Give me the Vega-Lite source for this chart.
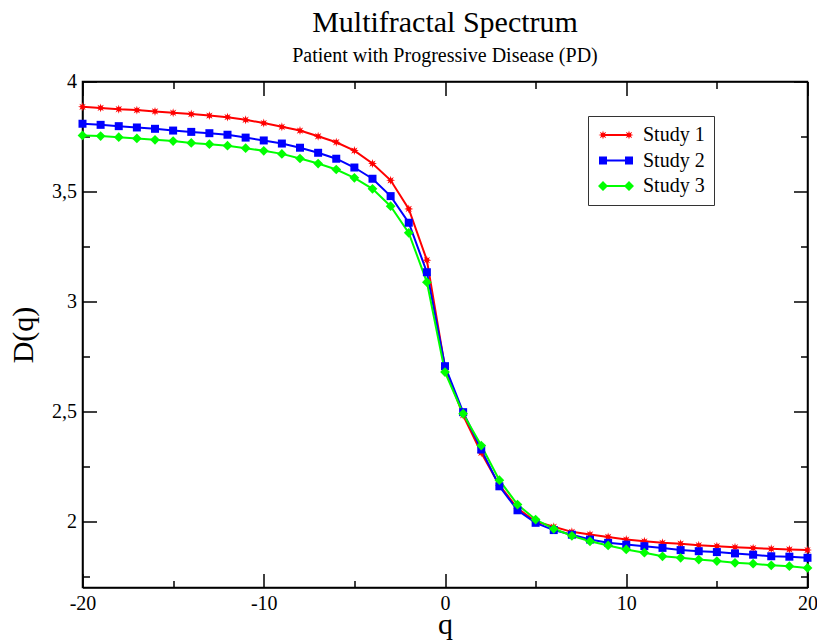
{
  "$schema": "https://vega.github.io/schema/vega-lite/v6.json",
  "width": 725,
  "height": 506,
  "autosize": {"type": "none"},
  "padding": {"left": 82.5, "top": 81.5, "right": 9.5, "bottom": 55.5},
  "background": "white",
  "title": {
    "text": "Multifractal Spectrum",
    "subtitle": "Patient with  Progressive Disease (PD)",
    "anchor": "middle",
    "font": "Liberation Serif",
    "fontSize": 30,
    "fontWeight": "normal",
    "color": "black",
    "subtitleFont": "Liberation Serif",
    "subtitleFontSize": 20,
    "subtitleColor": "black",
    "subtitlePadding": 8,
    "offset": 6
  },
  "config": {
    "view": {"stroke": "black", "strokeWidth": 1.5},
    "axis": {
      "labelFont": "Liberation Serif",
      "labelFontSize": 20,
      "labelColor": "black",
      "titleFont": "Liberation Serif",
      "titleFontSize": 30,
      "titleFontWeight": "normal",
      "titleColor": "black",
      "tickColor": "black",
      "tickWidth": 1.5,
      "domainColor": "black",
      "domainWidth": 1.5,
      "grid": false
    }
  },
  "data": {
    "values": [
      {"q": -20, "D": 3.885, "study": "Study 1"},
      {"q": -19, "D": 3.880, "study": "Study 1"},
      {"q": -18, "D": 3.874, "study": "Study 1"},
      {"q": -17, "D": 3.870, "study": "Study 1"},
      {"q": -16, "D": 3.864, "study": "Study 1"},
      {"q": -15, "D": 3.858, "study": "Study 1"},
      {"q": -14, "D": 3.852, "study": "Study 1"},
      {"q": -13, "D": 3.845, "study": "Study 1"},
      {"q": -12, "D": 3.838, "study": "Study 1"},
      {"q": -11, "D": 3.826, "study": "Study 1"},
      {"q": -10, "D": 3.811, "study": "Study 1"},
      {"q": -9, "D": 3.794, "study": "Study 1"},
      {"q": -8, "D": 3.777, "study": "Study 1"},
      {"q": -7, "D": 3.751, "study": "Study 1"},
      {"q": -6, "D": 3.724, "study": "Study 1"},
      {"q": -5, "D": 3.686, "study": "Study 1"},
      {"q": -4, "D": 3.627, "study": "Study 1"},
      {"q": -3, "D": 3.551, "study": "Study 1"},
      {"q": -2, "D": 3.421, "study": "Study 1"},
      {"q": -1, "D": 3.188, "study": "Study 1"},
      {"q": 0, "D": 2.700, "study": "Study 1"},
      {"q": 1, "D": 2.483, "study": "Study 1"},
      {"q": 2, "D": 2.312, "study": "Study 1"},
      {"q": 3, "D": 2.165, "study": "Study 1"},
      {"q": 4, "D": 2.060, "study": "Study 1"},
      {"q": 5, "D": 2.000, "study": "Study 1"},
      {"q": 6, "D": 1.976, "study": "Study 1"},
      {"q": 7, "D": 1.953, "study": "Study 1"},
      {"q": 8, "D": 1.941, "study": "Study 1"},
      {"q": 9, "D": 1.930, "study": "Study 1"},
      {"q": 10, "D": 1.918, "study": "Study 1"},
      {"q": 11, "D": 1.910, "study": "Study 1"},
      {"q": 12, "D": 1.903, "study": "Study 1"},
      {"q": 13, "D": 1.899, "study": "Study 1"},
      {"q": 14, "D": 1.892, "study": "Study 1"},
      {"q": 15, "D": 1.888, "study": "Study 1"},
      {"q": 16, "D": 1.883, "study": "Study 1"},
      {"q": 17, "D": 1.879, "study": "Study 1"},
      {"q": 18, "D": 1.876, "study": "Study 1"},
      {"q": 19, "D": 1.873, "study": "Study 1"},
      {"q": 20, "D": 1.870, "study": "Study 1"},
      {"q": -20, "D": 3.808, "study": "Study 2"},
      {"q": -19, "D": 3.803, "study": "Study 2"},
      {"q": -18, "D": 3.797, "study": "Study 2"},
      {"q": -17, "D": 3.791, "study": "Study 2"},
      {"q": -16, "D": 3.785, "study": "Study 2"},
      {"q": -15, "D": 3.777, "study": "Study 2"},
      {"q": -14, "D": 3.771, "study": "Study 2"},
      {"q": -13, "D": 3.765, "study": "Study 2"},
      {"q": -12, "D": 3.758, "study": "Study 2"},
      {"q": -11, "D": 3.745, "study": "Study 2"},
      {"q": -10, "D": 3.732, "study": "Study 2"},
      {"q": -9, "D": 3.718, "study": "Study 2"},
      {"q": -8, "D": 3.699, "study": "Study 2"},
      {"q": -7, "D": 3.676, "study": "Study 2"},
      {"q": -6, "D": 3.649, "study": "Study 2"},
      {"q": -5, "D": 3.609, "study": "Study 2"},
      {"q": -4, "D": 3.558, "study": "Study 2"},
      {"q": -3, "D": 3.479, "study": "Study 2"},
      {"q": -2, "D": 3.358, "study": "Study 2"},
      {"q": -1, "D": 3.133, "study": "Study 2"},
      {"q": 0, "D": 2.706, "study": "Study 2"},
      {"q": 1, "D": 2.497, "study": "Study 2"},
      {"q": 2, "D": 2.327, "study": "Study 2"},
      {"q": 3, "D": 2.160, "study": "Study 2"},
      {"q": 4, "D": 2.051, "study": "Study 2"},
      {"q": 5, "D": 1.994, "study": "Study 2"},
      {"q": 6, "D": 1.961, "study": "Study 2"},
      {"q": 7, "D": 1.940, "study": "Study 2"},
      {"q": 8, "D": 1.918, "study": "Study 2"},
      {"q": 9, "D": 1.903, "study": "Study 2"},
      {"q": 10, "D": 1.895, "study": "Study 2"},
      {"q": 11, "D": 1.888, "study": "Study 2"},
      {"q": 12, "D": 1.880, "study": "Study 2"},
      {"q": 13, "D": 1.870, "study": "Study 2"},
      {"q": 14, "D": 1.865, "study": "Study 2"},
      {"q": 15, "D": 1.861, "study": "Study 2"},
      {"q": 16, "D": 1.855, "study": "Study 2"},
      {"q": 17, "D": 1.849, "study": "Study 2"},
      {"q": 18, "D": 1.842, "study": "Study 2"},
      {"q": 19, "D": 1.840, "study": "Study 2"},
      {"q": 20, "D": 1.835, "study": "Study 2"},
      {"q": -20, "D": 3.755, "study": "Study 3"},
      {"q": -19, "D": 3.752, "study": "Study 3"},
      {"q": -18, "D": 3.747, "study": "Study 3"},
      {"q": -17, "D": 3.741, "study": "Study 3"},
      {"q": -16, "D": 3.735, "study": "Study 3"},
      {"q": -15, "D": 3.729, "study": "Study 3"},
      {"q": -14, "D": 3.721, "study": "Study 3"},
      {"q": -13, "D": 3.715, "study": "Study 3"},
      {"q": -12, "D": 3.708, "study": "Study 3"},
      {"q": -11, "D": 3.697, "study": "Study 3"},
      {"q": -10, "D": 3.685, "study": "Study 3"},
      {"q": -9, "D": 3.671, "study": "Study 3"},
      {"q": -8, "D": 3.650, "study": "Study 3"},
      {"q": -7, "D": 3.627, "study": "Study 3"},
      {"q": -6, "D": 3.600, "study": "Study 3"},
      {"q": -5, "D": 3.562, "study": "Study 3"},
      {"q": -4, "D": 3.512, "study": "Study 3"},
      {"q": -3, "D": 3.433, "study": "Study 3"},
      {"q": -2, "D": 3.312, "study": "Study 3"},
      {"q": -1, "D": 3.088, "study": "Study 3"},
      {"q": 0, "D": 2.679, "study": "Study 3"},
      {"q": 1, "D": 2.490, "study": "Study 3"},
      {"q": 2, "D": 2.345, "study": "Study 3"},
      {"q": 3, "D": 2.188, "study": "Study 3"},
      {"q": 4, "D": 2.077, "study": "Study 3"},
      {"q": 5, "D": 2.009, "study": "Study 3"},
      {"q": 6, "D": 1.967, "study": "Study 3"},
      {"q": 7, "D": 1.935, "study": "Study 3"},
      {"q": 8, "D": 1.910, "study": "Study 3"},
      {"q": 9, "D": 1.891, "study": "Study 3"},
      {"q": 10, "D": 1.873, "study": "Study 3"},
      {"q": 11, "D": 1.858, "study": "Study 3"},
      {"q": 12, "D": 1.842, "study": "Study 3"},
      {"q": 13, "D": 1.835, "study": "Study 3"},
      {"q": 14, "D": 1.827, "study": "Study 3"},
      {"q": 15, "D": 1.820, "study": "Study 3"},
      {"q": 16, "D": 1.812, "study": "Study 3"},
      {"q": 17, "D": 1.808, "study": "Study 3"},
      {"q": 18, "D": 1.801, "study": "Study 3"},
      {"q": 19, "D": 1.797, "study": "Study 3"},
      {"q": 20, "D": 1.789, "study": "Study 3"}
    ]
  },
  "resolve": {"axis": {"x": "independent", "y": "independent"}},
  "layer": [
    {
      "mark": {"type": "line", "strokeWidth": 2},
      "encoding": {
        "x": {
          "field": "q", "type": "quantitative",
          "scale": {"domain": [-20, 20], "nice": false, "zero": false},
          "axis": {
            "orient": "bottom",
            "title": "q",
            "values": [-20, -15, -10, -5, 0, 5, 10, 15, 20],
            "labelExpr": "datum.value % 10 === 0 ? '' + datum.value : ''",
            "tickSize": {"condition": {"test": "datum.value % 10 === 0", "value": -14}, "value": -7},
            "labelPadding": 20,
            "labelFlush": false,
            "titlePadding": -4
          }
        },
        "y": {
          "field": "D", "type": "quantitative",
          "scale": {"domain": [1.7, 4], "nice": false, "zero": false},
          "axis": {
            "orient": "left",
            "title": "D(q)",
            "values": [1.75, 2, 2.25, 2.5, 2.75, 3, 3.25, 3.5, 3.75, 4],
            "labelExpr": "datum.value % 0.5 === 0 ? replace('' + datum.value, '.', ',') : ''",
            "tickSize": {"condition": {"test": "datum.value % 0.5 === 0", "value": -14}, "value": -7},
            "labelPadding": 20,
            "labelFlush": false,
            "titlePadding": 13
          }
        },
        "color": {
          "field": "study", "type": "nominal",
          "scale": {"domain": ["Study 1", "Study 2", "Study 3"], "range": ["#ff0000", "#0000ff", "#00ff00"]}
        }
      }
    },
    {
      "transform": [{"filter": "datum.study === 'Study 1'"}],
      "mark": {"type": "point", "filled": true, "opacity": 1, "strokeWidth": 0, "color": "#ff0000", "size": 80, "shape": "M1,0L0.416,0.172L0.707,0.707L0.172,0.416L0,1L-0.172,0.416L-0.707,0.707L-0.416,0.172L-1,0L-0.416,-0.172L-0.707,-0.707L-0.172,-0.416L0,-1L0.172,-0.416L0.707,-0.707L0.416,-0.172Z"},
      "encoding": {
        "x": {"field": "q", "type": "quantitative", "axis": null},
        "y": {"field": "D", "type": "quantitative", "axis": null}
      }
    },
    {
      "transform": [{"filter": "datum.study === 'Study 2'"}],
      "mark": {"type": "point", "filled": true, "opacity": 1, "strokeWidth": 0, "color": "#0000ff", "size": 64, "shape": "square"},
      "encoding": {
        "x": {"field": "q", "type": "quantitative", "axis": null},
        "y": {"field": "D", "type": "quantitative", "axis": null}
      }
    },
    {
      "transform": [{"filter": "datum.study === 'Study 3'"}],
      "mark": {"type": "point", "filled": true, "opacity": 1, "strokeWidth": 0, "color": "#00ff00", "size": 95, "shape": "diamond"},
      "encoding": {
        "x": {"field": "q", "type": "quantitative", "axis": null},
        "y": {"field": "D", "type": "quantitative", "axis": null}
      }
    },
    {
      "mark": {"type": "point", "filled": true, "opacity": 0},
      "encoding": {
        "x": {
          "field": "q", "type": "quantitative",
          "axis": {
            "orient": "top", "title": null, "labels": false,
            "values": [-20, -15, -10, -5, 0, 5, 10, 15, 20],
            "tickSize": {"condition": {"test": "datum.value % 10 === 0", "value": -14}, "value": -7}
          }
        },
        "y": {
          "field": "D", "type": "quantitative",
          "axis": {
            "orient": "right", "title": null, "labels": false,
            "values": [1.75, 2, 2.25, 2.5, 2.75, 3, 3.25, 3.5, 3.75, 4],
            "tickSize": {"condition": {"test": "datum.value % 0.5 === 0", "value": -14}, "value": -7}
          }
        },
        "color": {
          "field": "study", "type": "nominal",
          "legend": {
            "title": null,
            "orient": "none",
            "legendX": 505.5,
            "legendY": 34.5,
            "direction": "vertical",
            "padding": 9,
            "strokeColor": "#333333",
            "fillColor": "white",
            "labelFont": "Liberation Serif",
            "labelFontSize": 20,
            "labelColor": "black",
            "symbolOffset": 9,
            "labelOffset": 17,
            "rowPadding": 5.5,
            "symbolSize": 100,
            "symbolOpacity": 1,
            "symbolStrokeWidth": 0
          }
        },
        "shape": {
          "field": "study", "type": "nominal",
          "scale": {
            "domain": ["Study 1", "Study 2", "Study 3"],
            "range": [
              "M-2.6,-0.2H2.6V0.2H-2.6Z M-1.7,0L-2.23,0.153L-1.964,0.636L-2.447,0.37L-2.6,0.9L-2.753,0.37L-3.236,0.636L-2.97,0.153L-3.5,0L-2.97,-0.153L-3.236,-0.636L-2.753,-0.37L-2.6,-0.9L-2.447,-0.37L-1.964,-0.636L-2.23,-0.153Z M3.5,0L2.97,0.153L3.236,0.636L2.753,0.37L2.6,0.9L2.447,0.37L1.964,0.636L2.23,0.153L1.7,0L2.23,-0.153L1.964,-0.636L2.447,-0.37L2.6,-0.9L2.753,-0.37L3.236,-0.636L2.97,-0.153Z",
              "M-2.6,-0.2H2.6V0.2H-2.6Z M-3.4,-0.8H-1.8V0.8H-3.4Z M1.8,-0.8H3.4V0.8H1.8Z",
              "M-2.6,-0.2H2.6V0.2H-2.6Z M-2.6,-1L-1.6,0L-2.6,1L-3.6,0Z M2.6,-1L3.6,0L2.6,1L1.6,0Z"
            ]
          },
          "legend": {
            "title": null,
            "orient": "none",
            "legendX": 505.5,
            "legendY": 34.5,
            "direction": "vertical",
            "padding": 9,
            "strokeColor": "#333333",
            "fillColor": "white",
            "labelFont": "Liberation Serif",
            "labelFontSize": 20,
            "labelColor": "black",
            "symbolOffset": 9,
            "labelOffset": 17,
            "rowPadding": 5.5,
            "symbolSize": 100,
            "symbolOpacity": 1,
            "symbolStrokeWidth": 0
          }
        }
      }
    }
  ]
}
